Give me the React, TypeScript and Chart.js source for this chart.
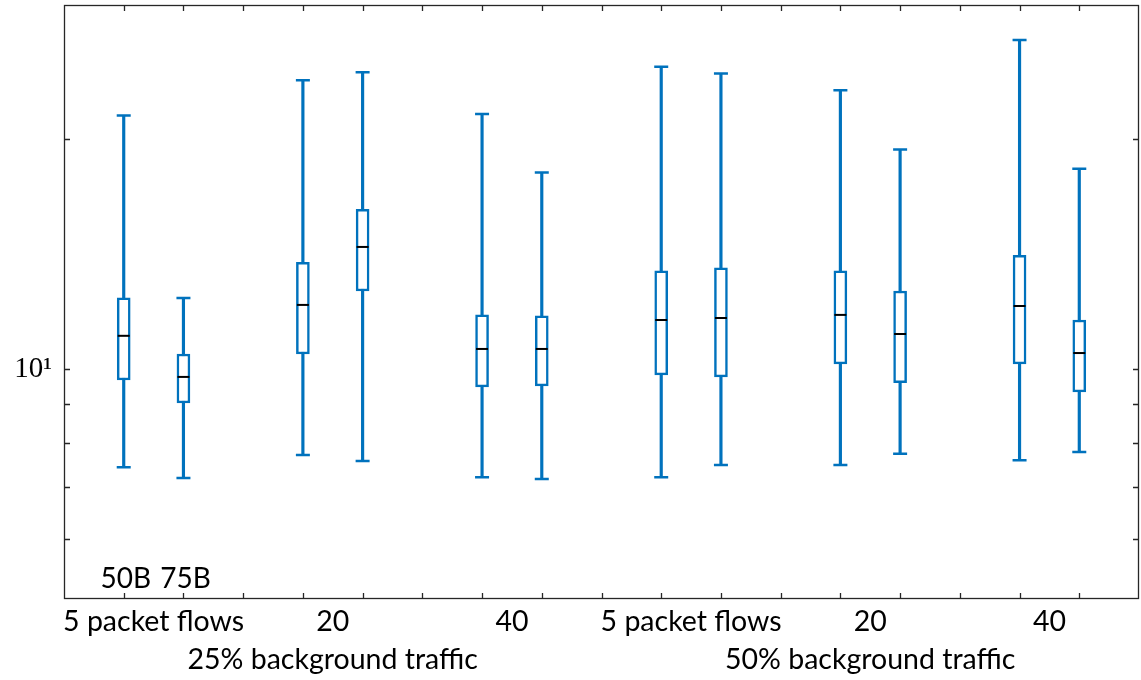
import { useEffect, useRef } from "react";
import { Chart, registerables } from "chart.js";

Chart.register(...registerables);

// Group and packet-size labels
const flowLabels = ["5 packet flows", "20", "40", "5 packet flows", "20", "40"];
const trafficLabels = ["25% background traffic", "50% background traffic"];
const sizeLabels = ["50B", "75B"];

// Box statistics, one entry per box: (flow group, packet size) in order
const whiskerLow = [7.44, 7.2, 7.72, 7.58, 7.22, 7.18, 7.22, 7.49, 7.49, 7.75, 7.6, 7.79];
const q1 = [9.68, 9.03, 10.47, 12.66, 9.48, 9.51, 9.83, 9.77, 10.16, 9.6, 10.16, 9.34];
const median = [11.06, 9.77, 12.14, 14.46, 10.63, 10.63, 11.6, 11.67, 11.78, 11.12, 12.1, 10.5];
const q3 = [12.4, 10.47, 13.8, 16.2, 11.78, 11.75, 13.45, 13.58, 13.45, 12.66, 14.1, 11.6];
const whiskerHigh = [21.5, 12.4, 23.9, 24.5, 21.6, 18.1, 24.9, 24.4, 23.2, 19.4, 27.0, 18.3];

// Log-axis tick values (only 10 carries a label)
const yTicks = [5, 6, 7, 8, 9, 10, 20, 30];

const WIDTH = 1141;
const HEIGHT = 680;
const BLUE = "#0072BD";
const FRAME = "#262626";
const TEXT_FONT = "Lato";
const SLOT_COUNT = 19; // positions 0..18, boxes sit on 1,2,4,5,...

const slotOf = (i: number) => 1 + 3 * Math.floor(i / 2) + (i % 2);
const slotLabels = Array.from({ length: SLOT_COUNT }, (_, i) => String(i));

const noPadding = (s: any) => {
  s.paddingTop = 0;
  s.paddingBottom = 0;
  s.paddingLeft = 0;
  s.paddingRight = 0;
};

const framePlugin = {
  id: "frameAndTicks",
  afterDraw(chart: any) {
    const { ctx, chartArea } = chart;
    const { left, right, top, bottom } = chartArea;
    const xs = chart.scales.x;
    const ys = chart.scales.y;
    const tl = 6;
    ctx.save();
    ctx.strokeStyle = FRAME;
    ctx.lineWidth = 1.3;
    ctx.beginPath();
    // inward x ticks on top and bottom
    for (let s = 1; s < SLOT_COUNT - 1; s++) {
      const px = Math.round(xs.getPixelForValue(s)) + 0.5;
      ctx.moveTo(px, bottom);
      ctx.lineTo(px, bottom - tl);
      ctx.moveTo(px, top);
      ctx.lineTo(px, top + tl);
    }
    // inward y ticks on left and right
    yTicks.slice(1, -1).forEach((v) => {
      const py = Math.round(ys.getPixelForValue(v)) + 0.5;
      ctx.moveTo(left, py);
      ctx.lineTo(left + tl, py);
      ctx.moveTo(right, py);
      ctx.lineTo(right - tl, py);
    });
    ctx.stroke();
    ctx.strokeRect(Math.round(left) + 0.5, Math.round(top) + 0.5, Math.round(right - left) - 1, Math.round(bottom - top) - 1);

    // packet-size labels under the first pair
    ctx.fillStyle = "#000";
    ctx.font = `28px ${TEXT_FONT}`;
    ctx.textAlign = "center";
    ctx.textBaseline = "alphabetic";
    sizeLabels.forEach((lab, i) => {
      ctx.fillText(lab, xs.getPixelForValue(slotOf(i)) + 2, bottom - 11);
    });
    ctx.restore();
  },
};

export default function App() {
  const canvasRef = useRef<HTMLCanvasElement | null>(null);

  useEffect(() => {
    document.body.style.margin = "0";
    const canvas = canvasRef.current;
    if (!canvas) return;

    const whiskers = whiskerLow.map((lo, i) => ({ x: String(slotOf(i)), y: [lo, whiskerHigh[i]] }));
    const boxes = q1.map((lo, i) => ({ x: String(slotOf(i)), y: [lo, q3[i]] }));
    const caps = [
      ...whiskerLow.map((v, i) => ({ x: String(slotOf(i)), y: v })),
      ...whiskerHigh.map((v, i) => ({ x: String(slotOf(i)), y: v })),
    ];
    const medians = median.map((v, i) => ({ x: String(slotOf(i)), y: v }));

    const chart = new Chart(canvas, {
      type: "bar",
      data: {
        labels: slotLabels,
        datasets: [
          {
            type: "bar",
            label: "whisker",
            data: whiskers as any,
            backgroundColor: BLUE,
            borderWidth: 0,
            barThickness: 2.5,
            grouped: false,
            order: 4,
          },
          {
            type: "bar",
            label: "box",
            data: boxes as any,
            backgroundColor: "#ffffff",
            borderColor: BLUE,
            borderWidth: 2.5,
            borderSkipped: false,
            barThickness: 13,
            grouped: false,
            order: 3,
          },
          {
            type: "scatter",
            label: "caps",
            data: caps as any,
            pointStyle: "line",
            pointRadius: 7,
            borderColor: BLUE,
            borderWidth: 2.5,
            order: 2,
          },
          {
            type: "scatter",
            label: "median",
            data: medians as any,
            pointStyle: "line",
            pointRadius: 6,
            borderColor: "#000",
            borderWidth: 2,
            order: 1,
          },
        ] as any,
      },
      options: {
        animation: false,
        responsive: false,
        maintainAspectRatio: false,
        devicePixelRatio: 1,
        events: [],
        layout: { autoPadding: false, padding: { top: 5, right: 2, left: 0, bottom: 0 } },
        plugins: { legend: { display: false }, tooltip: { enabled: false } },
        scales: {
          x: {
            type: "category",
            offset: false,
            weight: 0,
            grid: { display: false, drawTicks: false, offset: false },
            border: { display: false },
            ticks: { display: false },
            afterFit: (s: any) => {
              noPadding(s);
              s.height = 0;
            },
          },
          x2: {
            type: "linear",
            position: "bottom",
            min: 0,
            max: SLOT_COUNT - 1,
            offset: false,
            weight: 1,
            grid: { display: false, drawTicks: false, offset: false },
            border: { display: false },
            afterBuildTicks: (s: any) => {
              s.ticks = flowLabels.map((_, g) => ({ value: 1.5 + 3 * g }));
            },
            ticks: {
              autoSkip: false,
              maxRotation: 0,
              padding: 6,
              color: "#000",
              font: { family: TEXT_FONT, size: 28.5 },
              callback: (_v: any, idx: number) => flowLabels[idx],
            },
            afterFit: (s: any) => {
              noPadding(s);
              s.height = 40;
            },
          },
          x3: {
            type: "linear",
            position: "bottom",
            min: 0,
            max: SLOT_COUNT - 1,
            offset: false,
            weight: 2,
            grid: { display: false, drawTicks: false, offset: false },
            border: { display: false },
            afterBuildTicks: (s: any) => {
              s.ticks = trafficLabels.map((_, t) => ({ value: 4.5 + 9 * t }));
            },
            ticks: {
              autoSkip: false,
              maxRotation: 0,
              padding: 4,
              color: "#000",
              font: { family: TEXT_FONT, size: 28.5 },
              callback: (_v: any, idx: number) => trafficLabels[idx],
            },
            afterFit: (s: any) => {
              noPadding(s);
              s.height = 41;
            },
          },
          y: {
            type: "logarithmic",
            min: 5,
            max: 30,
            grid: { display: false, drawTicks: false },
            border: { display: false },
            afterBuildTicks: (s: any) => {
              s.ticks = yTicks.map((v) => ({ value: v, major: v === 10 }));
            },
            ticks: {
              autoSkip: false,
              padding: 12,
              color: "#000",
              font: { family: "Liberation Serif", size: 29 },
              callback: (v: any) => (Number(v) === 10 ? "10\u00B9" : ""),
            },
            afterFit: (s: any) => {
              noPadding(s);
              s.width = 64;
            },
          },
        },
      } as any,
      plugins: [framePlugin],
    });

    return () => chart.destroy();
  }, []);

  return (
    <div style={{ position: "absolute", left: 0, top: 0, width: WIDTH, height: HEIGHT, background: "#fff" }}>
      <canvas ref={canvasRef} width={WIDTH} height={HEIGHT} style={{ display: "block", width: WIDTH, height: HEIGHT }} />
    </div>
  );
}
